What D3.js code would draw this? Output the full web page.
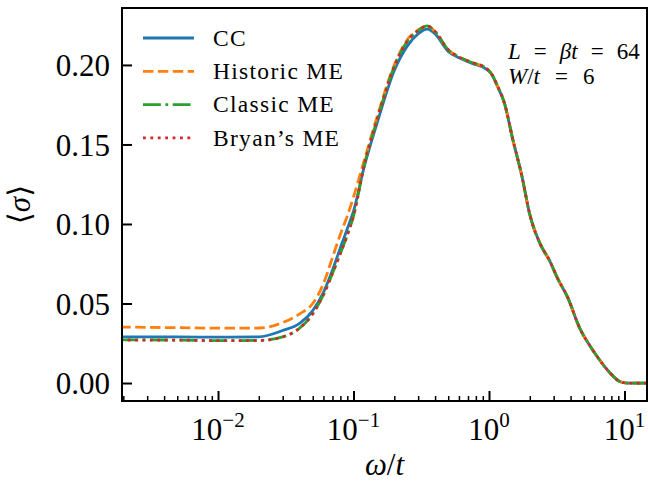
<!DOCTYPE html>
<html>
<head>
<meta charset="utf-8">
<script src="https://cdn.jsdelivr.net/npm/d3@7"></script>
<style>
  body { margin: 0; background: #fff; }
  text { font-family: "Liberation Serif", "DejaVu Serif", serif; fill: #000; }
</style>
</head>
<body>
<div id="chart"></div>
<script>
// data
const omega = [0.0019, 0.003, 0.005, 0.01, 0.02, 0.03, 0.04, 0.05, 0.06, 0.07, 0.08, 0.09, 0.10, 0.12, 0.15,
  0.20, 0.25, 0.30, 0.35, 0.40, 0.50, 0.60, 0.75, 0.95, 1.05, 1.15, 1.30, 1.50, 1.75, 2.0, 2.4, 2.8, 3.2,
  3.8, 4.7, 5.5, 6.3, 7.8, 9.3, 10.5, 15];
const cc = [0.0290, 0.0290, 0.0290, 0.0288, 0.0290, 0.0330, 0.0375, 0.0455, 0.0570, 0.0710, 0.0850, 0.0970, 0.1080, 0.1360, 0.1640,
  0.1965, 0.2120, 0.2195, 0.2225, 0.2195, 0.2085, 0.2045, 0.2010, 0.1975, 0.1940, 0.1870, 0.1760, 0.1530, 0.1300, 0.1060, 0.0870, 0.0770, 0.0660,
  0.0540, 0.0340, 0.0240, 0.0165, 0.0065, 0.0008, 0.0000, 0.0000];
const historic = [0.0352, 0.0350, 0.0348, 0.0345, 0.0346, 0.0380, 0.0435, 0.0500, 0.0625, 0.0790, 0.0935, 0.1050, 0.1170, 0.1400, 0.1680,
  0.2000, 0.2160, 0.2220, 0.2245, 0.2210, 0.2095, 0.2050, 0.2015, 0.1980, 0.1940, 0.1870, 0.1760, 0.1530, 0.1300, 0.1060, 0.0870, 0.0770, 0.0660,
  0.0540, 0.0340, 0.0240, 0.0165, 0.0065, 0.0008, 0.0000, 0.0000];
const classic = [0.0272, 0.0271, 0.0270, 0.0266, 0.0268, 0.0290, 0.0345, 0.0435, 0.0555, 0.0690, 0.0815, 0.0930, 0.1050, 0.1370, 0.1660,
  0.1990, 0.2150, 0.2215, 0.2245, 0.2210, 0.2095, 0.2050, 0.2015, 0.1980, 0.1940, 0.1870, 0.1760, 0.1530, 0.1300, 0.1060, 0.0870, 0.0770, 0.0660,
  0.0540, 0.0340, 0.0240, 0.0165, 0.0065, 0.0008, 0.0000, 0.0000];
const bryan = [0.0271, 0.0270, 0.0270, 0.0266, 0.0267, 0.0290, 0.0345, 0.0435, 0.0555, 0.0690, 0.0815, 0.0930, 0.1050, 0.1370, 0.1660,
  0.1990, 0.2150, 0.2215, 0.2245, 0.2210, 0.2095, 0.2050, 0.2015, 0.1980, 0.1940, 0.1870, 0.1760, 0.1530, 0.1300, 0.1060, 0.0870, 0.0770, 0.0660,
  0.0540, 0.0340, 0.0240, 0.0165, 0.0065, 0.0008, 0.0000, 0.0000];

const seriesNames = ["CC", "Historic ME", "Classic ME", "Bryan\u2019s ME"];
const seriesValues = [cc, historic, classic, bryan];
const colors = ["#1f77b4", "#ff7f0e", "#2ca02c", "#d62728"];
const dashes = [null, "10.4,4.5", "17.9,4.5,2.8,4.5", "2.8,4.6"];

const yTicks = [0, 0.05, 0.10, 0.15, 0.20];
const xMajor = [0.01, 0.1, 1, 10];
const xExp = ["\u22122", "\u22121", "0", "1"];

// plot box
const margin = {top: 8, right: 1, bottom: 85, left: 122};
const W = 648, H = 486;
const width = W - margin.left - margin.right;
const height = H - margin.top - margin.bottom;

const x = d3.scaleLog().domain([0.001956, 14.66]).range([0, width]);
const y = d3.scaleLinear().domain([-0.0113, 0.2358]).range([height, 0]);

const svg = d3.select("#chart").append("svg")
    .attr("width", W)
    .attr("height", H);

const chart = svg.append("g")
    .attr("transform", "translate(" + margin.left + "," + margin.top + ")");

chart.append("clipPath").attr("id", "clip")
    .append("rect").attr("width", width).attr("height", height);

// lines
const line = d3.line()
    .x(d => x(d[0]))
    .y(d => y(d[1]))
    .curve(d3.curveMonotoneX);

seriesValues.forEach(function (vals, i) {
    const pts = omega.map((w, j) => [w, vals[j]]);
    chart.append("path")
        .datum(pts)
        .attr("clip-path", "url(#clip)")
        .attr("fill", "none")
        .attr("stroke", colors[i])
        .attr("stroke-width", 2.8)
        .attr("stroke-dasharray", dashes[i])
        .attr("d", line);
});

// minor x ticks
let minors = [];
for (let e = -3; e <= 1; e++) {
    for (let m = 2; m <= 9; m++) {
        const v = m * Math.pow(10, e);
        if (v > x.domain()[0] && v < x.domain()[1]) minors.push(v);
    }
}
chart.append("g")
    .attr("transform", "translate(0," + height + ")")
    .call(d3.axisBottom(x).tickValues(minors).tickSize(-5).tickFormat(""))
    .call(g => g.select(".domain").remove())
    .call(g => g.selectAll(".tick line").attr("stroke-width", 1.5));

// major x ticks
chart.append("g")
    .attr("transform", "translate(0," + height + ")")
    .call(d3.axisBottom(x).tickValues(xMajor).tickSize(-10).tickFormat(""))
    .call(g => g.select(".domain").remove())
    .call(g => g.selectAll(".tick line").attr("stroke-width", 2));

xMajor.forEach(function (v, i) {
    const t = chart.append("text")
        .attr("x", x(v))
        .attr("y", height + 39)
        .attr("text-anchor", "middle")
        .style("font-size", "31px");
    t.append("tspan").text("10");
    t.append("tspan")
        .attr("dy", -13)
        .style("font-size", "21px")
        .text(xExp[i]);
});

// y ticks
chart.append("g")
    .call(d3.axisLeft(y).tickValues(yTicks).tickSize(-10).tickPadding(12).tickFormat(d3.format(".2f")))
    .call(g => g.select(".domain").remove())
    .call(g => g.selectAll(".tick line").attr("stroke-width", 2))
    .call(g => g.selectAll(".tick text").style("font-size", "31px")
        .attr("font-family", null).attr("dy", "0.34em"));

// frame
chart.append("rect")
    .attr("width", width)
    .attr("height", height)
    .attr("fill", "none")
    .attr("stroke", "#000")
    .attr("stroke-width", 2);

// axis labels
const xl = chart.append("text")
    .attr("x", width / 2)
    .attr("y", height + 74)
    .attr("text-anchor", "middle")
    .style("font-size", "31px");
xl.append("tspan").style("font-style", "italic").text("\u03c9");
xl.append("tspan").text("/");
xl.append("tspan").style("font-style", "italic").text("t");

const yl = svg.append("text")
    .attr("transform", "translate(30," + (margin.top + height / 2) + ") rotate(-90)")
    .attr("text-anchor", "middle")
    .style("font-size", "31px");
yl.append("tspan").text("\u27e8");
yl.append("tspan").style("font-style", "italic").text("\u03c3");
yl.append("tspan").text("\u27e9");

// legend
const legend = chart.append("g").attr("transform", "translate(21,30)");
seriesNames.forEach(function (name, i) {
    const row = legend.append("g").attr("transform", "translate(0," + (i * 33.3) + ")");
    row.append("line")
        .attr("x1", 0).attr("x2", 51)
        .attr("stroke", colors[i])
        .attr("stroke-width", 2.8)
        .attr("stroke-dasharray", dashes[i]);
    row.append("text")
        .attr("x", 70)
        .attr("y", 0)
        .attr("dy", "0.33em")
        .style("font-size", "23.5px")
        .style("letter-spacing", "1.3px")
        .text(name);
});

// annotation, two lines with math-like spacing around "="
const a1 = chart.append("text")
    .attr("x", 386)
    .attr("y", 51)
    .style("font-size", "23px");
a1.append("tspan").style("font-style", "italic").text("L");
a1.append("tspan").attr("dx", 13).text("=");
a1.append("tspan").attr("dx", 13).style("font-style", "italic").text("\u03b2t");
a1.append("tspan").attr("dx", 13).text("=");
a1.append("tspan").attr("dx", 13).text("64");

const a2 = chart.append("text")
    .attr("x", 386)
    .attr("y", 76)
    .style("font-size", "23px");
a2.append("tspan").style("font-style", "italic").text("W");
a2.append("tspan").text("/");
a2.append("tspan").style("font-style", "italic").text("t");
a2.append("tspan").attr("dx", 15).text("=");
a2.append("tspan").attr("dx", 15).text("6");
</script>
</body>
</html>
